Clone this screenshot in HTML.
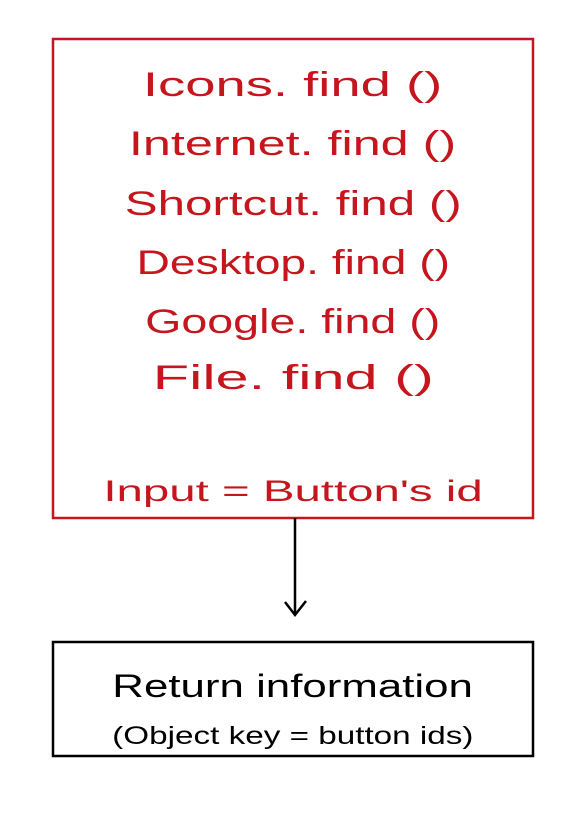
<!DOCTYPE html>
<html><head><meta charset="utf-8"><style>
html,body{margin:0;padding:0;background:#fff;}
body{width:587px;height:815px;position:relative;overflow:hidden;font-family:"Liberation Sans",sans-serif;}
.t{position:absolute;left:52px;width:482px;text-align:center;white-space:nowrap;}
.t span{display:inline-block;transform-origin:center;}
.r{color:#c4161c;font-size:34px;}
</style></head><body>
<svg width="587" height="815" style="position:absolute;left:0;top:0">
<rect x="53" y="39" width="480" height="479" fill="none" stroke="#c4161c" stroke-width="2.5"/>
<line x1="295" y1="518" x2="295" y2="614" stroke="#000" stroke-width="2.5"/>
<polyline points="285,602 295,615 306,601" fill="none" stroke="#000" stroke-width="2.5"/>
<rect x="53" y="642" width="480" height="114" fill="none" stroke="#000" stroke-width="2.5"/>
</svg>
<div class="t r" style="top:66px"><span style="transform:scaleX(1.6)">Icons. find ()</span></div>
<div class="t r" style="top:125px"><span style="transform:scaleX(1.48)">Internet. find ()</span></div>
<div class="t r" style="top:185px"><span style="transform:scaleX(1.45)">Shortcut. find ()</span></div>
<div class="t r" style="top:244px"><span style="transform:scaleX(1.36)">Desktop. find ()</span></div>
<div class="t r" style="top:303px"><span style="transform:scaleX(1.37)">Google. find ()</span></div>
<div class="t r" style="top:359px"><span style="transform:scaleX(1.75)">File. find ()</span></div>
<div class="t r" style="top:475px;font-size:30px"><span style="transform:scaleX(1.58)">Input = Button's id</span></div>
<div class="t" style="top:668px;font-size:32px"><span style="transform:scaleX(1.37)">Return information</span></div>
<div class="t" style="top:722px;font-size:25px"><span style="transform:scaleX(1.33)">(Object key = button ids)</span></div>
</body></html>
